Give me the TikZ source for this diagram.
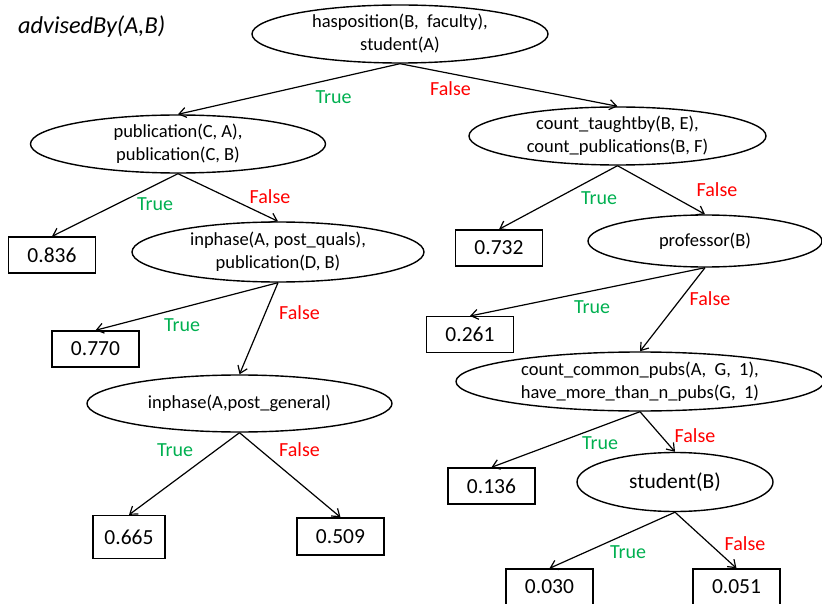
\documentclass[tikz,border=0pt]{standalone}
\usepackage{fontspec}
\setmainfont{Carlito}
\usetikzlibrary{shapes.geometric,arrows.meta}
\definecolor{tgreen}{RGB}{0,176,80}
\definecolor{fred}{RGB}{255,0,0}
\begin{document}
\begin{tikzpicture}[x=1pt,y=-1pt,
 ell/.style={ellipse,draw,line width=1.4pt,inner sep=0pt},
 leaf/.style={rectangle,draw,line width=1.4pt,minimum width=87pt,minimum height=36pt,inner sep=0pt,font=\fontsize{21.5}{24}\selectfont},
 etext/.style={align=center,font=\fontsize{18.5}{23}\selectfont,inner sep=0pt},
 arr/.style={-{Straight Barb[length=7pt,width=10pt]},line width=1.2pt},
 tl/.style={text=tgreen,font=\fontsize{20}{24}\selectfont,inner sep=0pt},
 fl/.style={text=fred,font=\fontsize{20}{24}\selectfont,inner sep=0pt}]
\clip (0,0) rectangle (822,604);

\node[anchor=west,inner sep=0pt,font=\fontsize{24.3}{27}\selectfont\itshape] (title) at (18,27) {advisedBy(A,B)};

% ellipses
\node[ell,minimum width=296pt,minimum height=58pt] (root) at (400,34) {};
\node[etext] (root-t) at (root) {hasposition(B,\ \ faculty),\\student(A)};

\node[ell,minimum width=295pt,minimum height=58pt] (pub) at (178,144) {};
\node[etext] (pub-t) at (pub) {publication(C, A),\\publication(C, B)};

\node[ell,minimum width=297pt,minimum height=58pt] (cnt) at (617.5,136) {};
\node[etext] (cnt-t) at (cnt) {count\_taughtby(B, E),\\count\_publications(B, F)};

\node[ell,minimum width=292pt,minimum height=60pt] (inph) at (278,252) {};
\node[etext] (inph-t) at (inph) {inphase(A, post\_quals),\\publication(D, B)};

\node[ell,minimum width=305pt,minimum height=57pt] (inpg) at (239.5,403.5) {};
\node[etext] (inpg-t) at (inpg) {inphase(A,post\_general)};

\node[ell,minimum width=234pt,minimum height=52pt] (prof) at (705,241) {};
\node[etext] (prof-t) at (prof) {professor(B)};

\node[ell,minimum width=368pt,minimum height=59pt] (ccp) at (640,381.5) {};
\node[etext] (ccp-t) at (ccp) {count\_common\_pubs(A,\ \ G,\ \ 1),\\have\_more\_than\_n\_pubs(G,\ \ 1)};

\node[ell,minimum width=196pt,minimum height=59pt] (stu) at (675,482) {};
\node[etext,font=\fontsize{21.5}{24}\selectfont] (stu-t) at (stu) {student(B)};

% leaves
\node[leaf] (l836) at (52,255) {0.836};
\node[leaf] (l770) at (95.5,349) {0.770};
\node[leaf,minimum width=72pt,minimum height=43pt] (l665) at (129,537) {0.665};
\node[leaf,minimum height=37pt] (l509) at (340.5,536.5) {0.509};
\node[leaf] (l732) at (499,248) {0.732};
\node[leaf] (l261) at (470,334.7) {0.261};
\node[leaf] (l136) at (491.5,486) {0.136};
\node[leaf] (l030) at (549.5,587) {0.030};
\node[leaf] (l051) at (736.5,587) {0.051};

% connectors
\draw[arr] (root.south) -- (pub.north);
\draw[arr] (root.south) -- (cnt.north);
\draw[arr] (pub.south) -- (l836.north);
\draw[arr] (pub.south) -- (inph.north);
\draw[arr] (inph.south) -- (l770.north);
\draw[arr] (inph.south) -- (inpg.north);
\draw[arr] (inpg.south) -- (l665.north);
\draw[arr] (inpg.south) -- (l509.north);
\draw[arr] (cnt.south) -- (l732.north);
\draw[arr] (cnt.south) -- (prof.north);
\draw[arr] (prof.south) -- (l261.north);
\draw[arr] (prof.south) -- (ccp.north);
\draw[arr] (ccp.south) -- (l136.north);
\draw[arr] (ccp.south) -- (stu.north);
\draw[arr] (stu.south) -- (l030.north);
\draw[arr] (stu.south) -- (l051.north);

% labels
\node[tl] (t1) at (333.5,97) {True};
\node[fl] (f1) at (450.5,89) {False};
\node[tl] (t2) at (155,204) {True};
\node[fl] (f2) at (270,197) {False};
\node[tl] (t3) at (182,325) {True};
\node[fl] (f3) at (299.5,313) {False};
\node[tl] (t4) at (175,450) {True};
\node[fl] (f4) at (299.5,450) {False};
\node[tl] (t5) at (599,198) {True};
\node[fl] (f5) at (717,190) {False};
\node[tl] (t6) at (592,307) {True};
\node[fl] (f6) at (710,299) {False};
\node[tl] (t7) at (600,443) {True};
\node[fl] (f7) at (695,436) {False};
\node[tl] (t8) at (628,552) {True};
\node[fl] (f8) at (745,544) {False};
\end{tikzpicture}
\end{document}
